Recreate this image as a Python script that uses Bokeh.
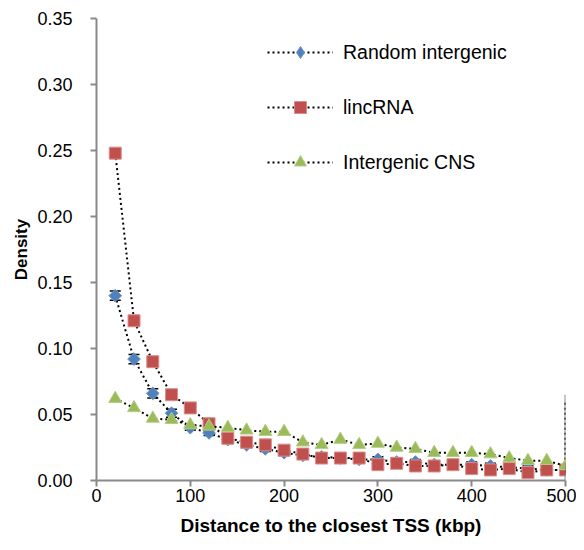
import numpy as np
from bokeh.plotting import figure
from bokeh.models import Range1d, FixedTicker, NumeralTickFormatter, Legend, LegendItem
from bokeh.embed import file_html
from bokeh.resources import INLINE

# ---- data ----
distance = [20, 40, 60, 80, 100, 120, 140, 160, 180, 200, 220, 240, 260,
            280, 300, 320, 340, 360, 380, 400, 420, 440, 460, 480, 500]
random_intergenic = [0.140, 0.092, 0.066, 0.051, 0.040, 0.036, 0.031, 0.027, 0.024,
                     0.021, 0.019, 0.018, 0.017, 0.016, 0.016, 0.014, 0.014, 0.012,
                     0.012, 0.012, 0.011, 0.010, 0.009, 0.008, 0.008]
random_err = [0.0035, 0.0035, 0.0035, 0.003, 0.002, 0.002, 0.002, 0.002, 0.002,
              0.002, 0.002, 0.002, 0.002, 0.002, 0.002, 0.002, 0.002, 0.002,
              0.002, 0.002, 0.002, 0.002, 0.002, 0.002, 0.002]
lincrna = [0.248, 0.121, 0.090, 0.065, 0.055, 0.043, 0.032, 0.029, 0.027,
           0.023, 0.020, 0.017, 0.017, 0.017, 0.012, 0.013, 0.011, 0.011,
           0.012, 0.009, 0.008, 0.009, 0.006, 0.008, 0.008]
intergenic_cns = [0.062, 0.055, 0.047, 0.046, 0.042, 0.041, 0.040, 0.038, 0.037,
                  0.037, 0.029, 0.027, 0.031, 0.027, 0.028, 0.025, 0.024, 0.021,
                  0.021, 0.021, 0.020, 0.017, 0.015, 0.015, 0.011]
# stray vertical strokes at the right edge of the plot area
tail_x = [500]
tail_gray = [0.0, 0.065]
tail_dotted = [0.012, 0.061]

x_ticks = [0, 100, 200, 300, 400, 500]
y_ticks = [0.00, 0.05, 0.10, 0.15, 0.20, 0.25, 0.30, 0.35]

BLUE = "#4F81BD"
RED = "#C0504D"
GREEN = "#9BBB59"
AXIS = "#898989"

p = figure(width=576, height=542, output_backend="svg", toolbar_location=None,
           x_range=Range1d(0, 500), y_range=Range1d(0, 0.35),
           min_border_left=96, min_border_right=11, min_border_top=18,
           min_border_bottom=62)
p.outline_line_color = None
p.xgrid.visible = False
p.ygrid.visible = False
p.background_fill_color = "white"
p.border_fill_color = "white"

for ax in (p.xaxis[0], p.yaxis[0]):
    ax.axis_line_color = AXIS
    ax.axis_line_width = 2
    ax.major_tick_line_color = AXIS
    ax.major_tick_line_width = 2
    ax.major_tick_out = 6
    ax.major_tick_in = 0
    ax.minor_tick_line_color = None
    ax.major_label_text_font = "Liberation Sans"
    ax.major_label_text_font_size = "18px"
    ax.major_label_text_color = "black"
    ax.axis_label_text_font = "Liberation Sans"
    ax.axis_label_text_font_style = "bold"
    ax.axis_label_text_color = "black"

p.xaxis.ticker = FixedTicker(ticks=x_ticks)
p.yaxis.ticker = FixedTicker(ticks=y_ticks)
p.yaxis.formatter = NumeralTickFormatter(format="0.00")
p.xaxis.axis_label = "Distance to the closest TSS (kbp)"
p.yaxis.axis_label = "Density"
p.xaxis.axis_label_text_font_size = "19px"
p.yaxis.axis_label_text_font_size = "17px"
p.xaxis.major_label_standoff = 2
p.yaxis.major_label_standoff = 18
p.xaxis.axis_label_standoff = 10
p.yaxis.axis_label_standoff = 3

DASH = "2 3"

# right-edge strokes
p.segment(x0=tail_x, y0=[tail_gray[0]], x1=tail_x, y1=[tail_gray[1]],
          line_color=AXIS, line_width=2)
p.segment(x0=tail_x, y0=[tail_dotted[0]], x1=tail_x, y1=[tail_dotted[1]],
          line_color="black", line_width=2, line_dash=DASH)

# Random intergenic
l1 = p.line(distance, random_intergenic, line_color="black", line_width=2, line_dash=DASH)
# diamond used as the legend key (legend glyphs ignore marker angle); hidden under the real markers
m1_key = p.scatter(distance, random_intergenic, marker="diamond", size=4,
                   fill_color=BLUE, line_color="#6E95C8", line_width=1)
lo = [v - e for v, e in zip(random_intergenic, random_err)]
hi = [v + e for v, e in zip(random_intergenic, random_err)]
p.segment(x0=distance, y0=lo, x1=distance, y1=hi, line_color="black", line_width=1.5)
p.scatter(distance, lo, marker="dash", size=11, line_color="black", line_width=1.5)
p.scatter(distance, hi, marker="dash", size=11, line_color="black", line_width=1.5)
m1 = p.scatter(distance, random_intergenic, marker="square", angle=np.pi / 4, size=9,
               fill_color=BLUE, line_color="#6E95C8", line_width=1)

# lincRNA
l2 = p.line(distance, lincrna, line_color="black", line_width=2, line_dash=DASH)
m2 = p.scatter(distance, lincrna, marker="square", size=12,
               fill_color=RED, line_color="#DB8D8B", line_width=1)

# Intergenic CNS
l3 = p.line(distance, intergenic_cns, line_color="black", line_width=2, line_dash=DASH)
m3 = p.scatter(distance, intergenic_cns, marker="triangle", size=13,
               fill_color=GREEN, line_color="#B3CD83", line_width=1)

legend = Legend(items=[
    LegendItem(label="Random intergenic", renderers=[l1, m1_key]),
    LegendItem(label="lincRNA", renderers=[l2, m2]),
    LegendItem(label="Intergenic CNS", renderers=[l3, m3]),
], location=(171, 303))
legend.glyph_width = 66
legend.glyph_height = 30
legend.label_height = 30
legend.spacing = 25
legend.padding = 0
legend.margin = 0
legend.label_standoff = 10
legend.label_text_font = "Liberation Sans"
legend.label_text_font_size = "19.5px"
legend.label_text_color = "black"
legend.border_line_color = None
legend.background_fill_alpha = 0
p.add_layout(legend, "center")

open("out.html", "w").write(file_html(p, INLINE))
